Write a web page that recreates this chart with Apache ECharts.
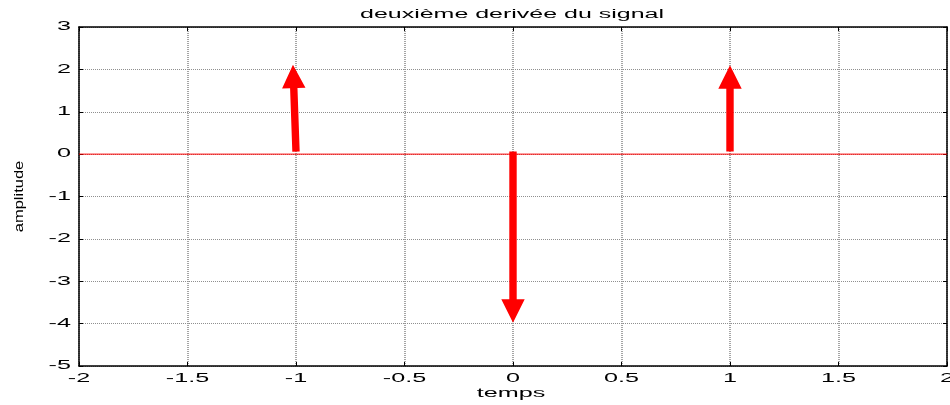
<!DOCTYPE html>
<html><head><meta charset="utf-8">
<script src="https://cdn.jsdelivr.net/npm/echarts@6/dist/echarts.min.js"></script>
<style>html,body{margin:0;padding:0;background:#fff}#c{width:950px;height:405px}</style>
</head><body><div id="c"></div>
<script>
// data
const titleText = 'deuxième derivée du signal';
const xName = 'temps';
const yName = 'amplitude';
const xTicks = [-2, -1.5, -1, -0.5, 0, 0.5, 1, 1.5, 2];
const yTicks = [-5, -4, -3, -2, -1, 0, 1, 2, 3];
const baseX = [-2, 2];
const baseY = [0, 0];
const arrowX0 = [-1, 0, 1];
const arrowX1 = [-1.014, 0, 1];
const arrowY0 = [0.06, 0.06, 0.06];
const arrowY1 = [2.11, -3.98, 2.1];

const arrows = arrowX0.map((x, i) => [x, arrowY0[i], arrowX1[i], arrowY1[i]]);
const font = "'Liberation Sans', Arial, Helvetica, sans-serif";

const chart = echarts.init(document.getElementById('c'), null, {renderer: 'canvas'});
const axisCommon = {
  type: 'value',
  axisLine: {show: true, onZero: false, lineStyle: {color: '#000', width: 1.5}},
  axisTick: {show: true, inside: true, length: 4, lineStyle: {color: '#000'}},
  axisLabel: {show: false}
};
chart.setOption({
  animation: false,
  grid: {left: 79, right: 3, top: 27, bottom: 39, containLabel: false, outerBoundsMode: 'none'},
  xAxis: [
    Object.assign({}, axisCommon, {
      position: 'bottom', min: xTicks[0], max: xTicks[xTicks.length - 1], interval: 0.5,
      splitLine: {show: true, lineStyle: {color: '#8f8f8f', type: [1, 1], width: 1.6}}
    }),
    Object.assign({}, axisCommon, {
      position: 'top', min: xTicks[0], max: xTicks[xTicks.length - 1], interval: 0.5,
      splitLine: {show: false}
    })
  ],
  yAxis: [
    Object.assign({}, axisCommon, {
      position: 'left', min: yTicks[0], max: yTicks[yTicks.length - 1], interval: 1,
      splitLine: {show: true, lineStyle: {color: '#8f8f8f', type: [1, 1], width: 1}}
    }),
    Object.assign({}, axisCommon, {
      position: 'right', min: yTicks[0], max: yTicks[yTicks.length - 1], interval: 1,
      splitLine: {show: false}
    })
  ],
  series: [
    {
      type: 'line', data: baseX.map((x, i) => [x, baseY[i]]),
      symbol: 'none', lineStyle: {color: '#ff0000', width: 1}, z: 3, silent: true
    },
    {
      type: 'custom', data: arrows, z: 4, silent: true,
      renderItem: function (params, api) {
        const p0 = api.coord([api.value(0), api.value(1)]);
        const p1 = api.coord([api.value(2), api.value(3)]);
        const dx = p1[0] - p0[0], dy = p1[1] - p0[1];
        const L = Math.sqrt(dx * dx + dy * dy);
        const ux = dx / L, uy = dy / L;
        const nx = -uy, ny = ux;
        const headL = 23.5, headW = 11.7, shaftW = 3.7;
        const bx = p1[0] - ux * headL, by = p1[1] - uy * headL;
        const pts = [
          [p0[0] + nx * shaftW, p0[1] + ny * shaftW],
          [bx + nx * shaftW, by + ny * shaftW],
          [bx + nx * headW, by + ny * headW],
          [p1[0], p1[1]],
          [bx - nx * headW, by - ny * headW],
          [bx - nx * shaftW, by - ny * shaftW],
          [p0[0] - nx * shaftW, p0[1] - ny * shaftW]
        ];
        return {type: 'polygon', shape: {points: pts}, style: {fill: '#ff0000'}};
      }
    }
  ]
});

// Text, stretched along its baseline like the MATLAB export
const SX = 2.1;
function txt(text, x, y, align, opts) {
  return Object.assign({
    type: 'text', x: x, y: y, scaleX: SX, silent: true, z: 10,
    style: {text: text, fontFamily: font, fontSize: 12, fill: '#000',
      align: align, verticalAlign: 'middle'}
  }, opts || {});
}
const g = [];
const yBottomPx = chart.convertToPixel({yAxisIndex: 0}, yTicks[0]);
const xLeftPx = chart.convertToPixel({xAxisIndex: 0}, xTicks[0]);
xTicks.forEach(v => {
  const px = chart.convertToPixel({xAxisIndex: 0}, v);
  g.push(txt(String(v), px, yBottomPx + 13, 'center'));
});
yTicks.forEach(v => {
  const py = chart.convertToPixel({yAxisIndex: 0}, v);
  g.push(txt(String(v), xLeftPx - 8, py, 'right'));
});
const xMid = chart.convertToPixel({xAxisIndex: 0}, 0);
const yMid = (chart.convertToPixel({yAxisIndex: 0}, yTicks[0]) + chart.convertToPixel({yAxisIndex: 0}, yTicks[yTicks.length - 1])) / 2;
g.push(txt(titleText, xMid - 1, 15, 'center', {scaleX: 2.08}));
g.push(txt(xName, xMid - 2, 394, 'center', {scaleX: 2.1}));
g.push({
  type: 'text', x: 19, y: yMid, rotation: Math.PI / 2, scaleX: 1.27, silent: true, z: 10,
  style: {text: yName, fontFamily: font, fontSize: 13, fill: '#000', align: 'center', verticalAlign: 'middle'}
});
chart.setOption({graphic: g});
</script></body></html>
